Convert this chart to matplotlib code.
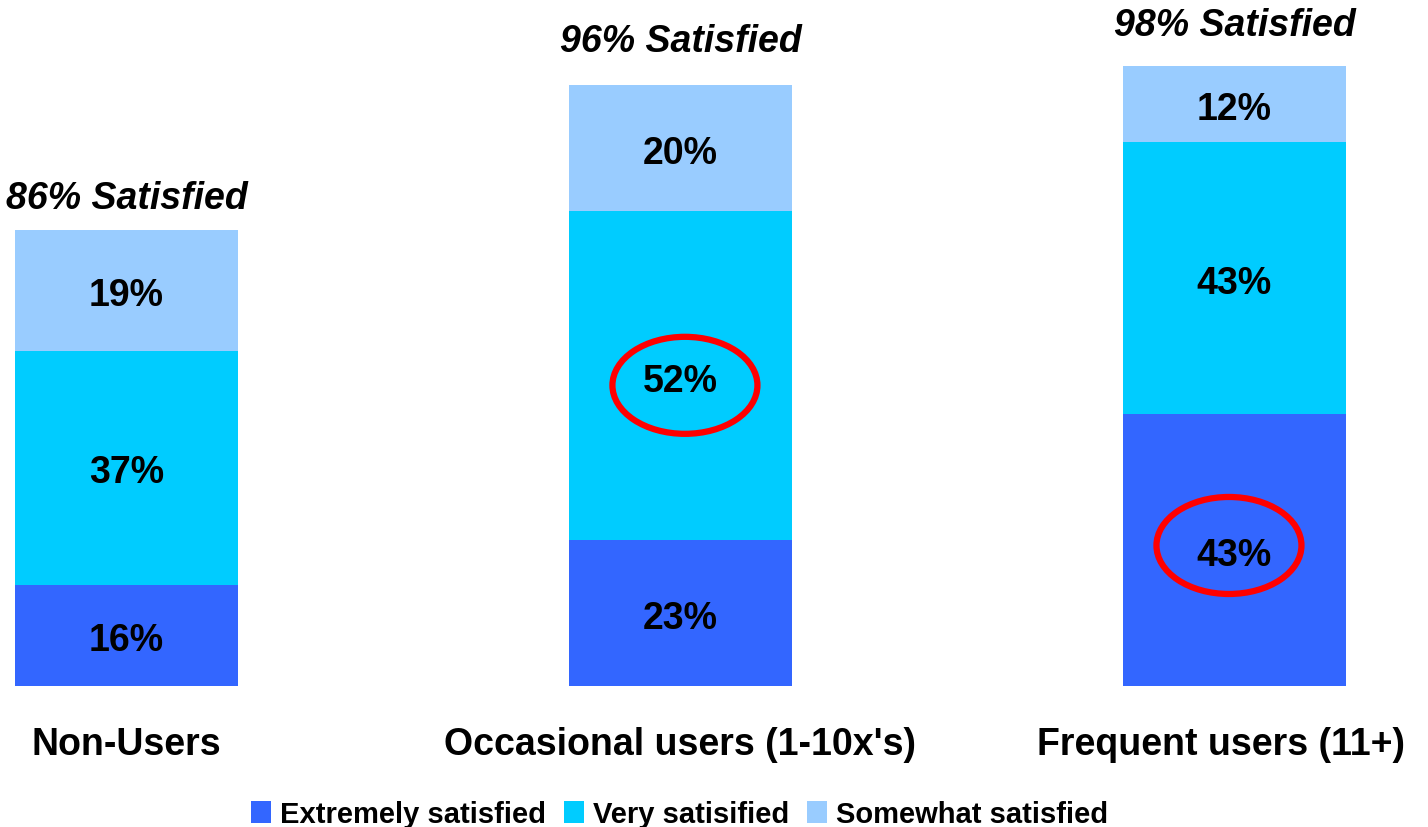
import matplotlib
matplotlib.use("Agg")
import matplotlib.pyplot as plt
from matplotlib.patches import Ellipse, Patch

# ---- data ----
categories = ["Non-Users", "Occasional users (1-10x's)", "Frequent users (11+)"]
series_names = ["Extremely satisfied", "Very satisified", "Somewhat satisfied"]
extremely = [16, 23, 43]
very = [37, 52, 43]
somewhat = [19, 20, 12]
total_labels = ["86% Satisfied", "96% Satisfied", "98% Satisfied"]
colors = ["#3366FF", "#00CCFF", "#99CCFF"]

plt.rcParams['font.family'] = ['Liberation Sans', 'DejaVu Sans']

W, H = 1428, 828
fig = plt.figure(figsize=(W / 100, H / 100), dpi=100)
ax = fig.add_axes([0, 0, 1, 1])

# pixel geometry -> data limits
px_per_cat = 554.0
x0_px = 126.5
px_per_pct = 6.33
base_px = 687.0
ax.set_xlim(-x0_px / px_per_cat, (W - x0_px) / px_per_cat)
ax.set_ylim(-(H - base_px) / px_per_pct, base_px / px_per_pct)
ax.axis('off')

FS = 27
x = list(range(len(categories)))
width = 0.4025
series = [extremely, very, somewhat]
bottoms = [0] * len(categories)
for vals, col in zip(series, colors):
    ax.bar(x, vals, width, bottom=bottoms, color=col, edgecolor='none')
    for xi, b, v in zip(x, bottoms, vals):
        ax.annotate(f"{v}%", (xi, b + v / 2), xytext=(0, -3.5),
                    textcoords='offset points', ha='center', va='center',
                    fontsize=FS, fontweight='bold', color='black')
    bottoms = [b + v for b, v in zip(bottoms, vals)]

# total labels above bars
top_offsets_pt = [23, 31.5, 29.5]
for xi, top, lab, off in zip(x, bottoms, total_labels, top_offsets_pt):
    ax.annotate(lab, (xi, top), xytext=(0, off), textcoords='offset points',
                ha='center', va='center', fontsize=FS, fontweight='bold',
                fontstyle='italic', color='black')

# category labels
cat_offsets_pt = [0, 0, -9.5]
for xi, lab, off in zip(x, categories, cat_offsets_pt):
    ax.annotate(lab, (xi, 0), xytext=(off, -42), textcoords='offset points',
                ha='center', va='center', fontsize=FS, fontweight='bold',
                color='black')

# red ellipses highlighting
ellipse_centers = [(1.008, 47.5), (1.990, 22.2)]
ell_w = 145 / px_per_cat
ell_h = 97 / px_per_pct
for cx, cy in ellipse_centers:
    ax.add_patch(Ellipse((cx, cy), ell_w, ell_h, fill=False,
                         edgecolor='#FF0000', linewidth=4.5, zorder=5))

# legend
handles = [Patch(facecolor=c, edgecolor='none') for c in colors]
leg = fig.legend(handles, series_names, loc='center', ncol=3,
                 bbox_to_anchor=(679.5 / W, (H - 815) / H),
                 frameon=False, prop={'size': 21, 'weight': 'bold'},
                 handlelength=0.69, handleheight=0.75, handletextpad=0.3,
                 columnspacing=0.62, borderpad=0, borderaxespad=0)

fig.savefig("out.png", dpi=100)
